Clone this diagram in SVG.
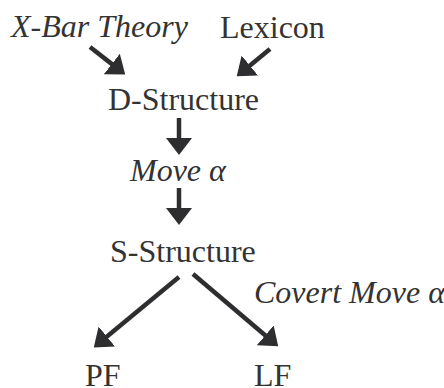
<svg xmlns="http://www.w3.org/2000/svg" width="444" height="388" viewBox="0 0 444 388">
  <style>
    .lbl { font-family: 'Liberation Serif', 'Times New Roman', serif; font-size: 32px; fill: #333333; }
    .it { font-style: italic; }
    .edge { stroke: #2e2e31; stroke-width: 4.5; fill: none; marker-end: url(#head); }
  </style>
  <defs>
    <marker id="head" markerUnits="userSpaceOnUse" viewBox="0 -13 17 26" refX="1" refY="0" markerWidth="17" markerHeight="26" orient="auto">
      <path d="M0,-13 L17,0 L0,13 z" fill="#2e2e31"/>
    </marker>
  </defs>

  <rect width="444" height="388" fill="#ffffff"/>

  <g id="xbar"><text class="lbl it" x="11" y="37">X-Bar Theory</text></g>
  <g id="lexicon"><text class="lbl" x="220" y="38">Lexicon</text></g>
  <g id="dstructure"><text class="lbl" x="108" y="110">D-Structure</text></g>
  <g id="move"><text class="lbl it" x="130" y="181">Move α</text></g>
  <g id="sstructure"><text class="lbl" x="110" y="262">S-Structure</text></g>
  <g id="covert"><text class="lbl it" x="254" y="303">Covert Move α</text></g>
  <g id="pf"><text class="lbl" x="85" y="386">PF</text></g>
  <g id="lf"><text class="lbl" x="254" y="386">LF</text></g>

  <g id="connectors">
    <line class="edge" x1="90" y1="47" x2="112.6" y2="64.6"/>
    <line class="edge" x1="270" y1="49" x2="249.1" y2="66.2"/>
    <line class="edge" x1="179" y1="118" x2="179" y2="139"/>
    <line class="edge" x1="179" y1="188" x2="179" y2="209"/>
    <line class="edge" x1="179" y1="277" x2="106.1" y2="337.2"/>
    <line class="edge" x1="193" y1="274" x2="266" y2="336"/>
  </g>
</svg>
